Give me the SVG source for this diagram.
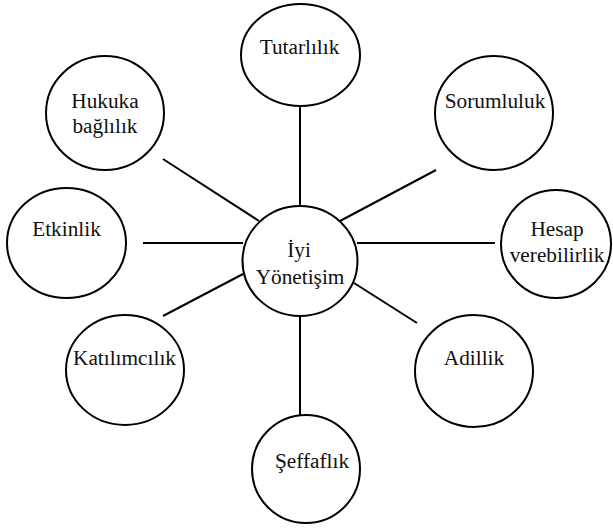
<svg xmlns="http://www.w3.org/2000/svg" width="613" height="528" viewBox="0 0 613 528">
  <style>
    .node ellipse { fill: #ffffff; stroke: #000000; stroke-width: 2; }
    .node text { font-family: 'Liberation Serif', 'DejaVu Serif', serif; font-size: 21.3px; fill: #111111; text-anchor: middle; }
    #connectors line { stroke: #000000; stroke-width: 2; }
  </style>
  <rect width="613" height="528" fill="#ffffff"/>

  <!-- spokes from the hub to each principle -->
  <g id="connectors">
    <line x1="300" y1="105" x2="300" y2="206"/>
    <line x1="163" y1="159" x2="259" y2="221"/>
    <line x1="436" y1="170" x2="340" y2="221"/>
    <line x1="143" y1="243" x2="243" y2="243"/>
    <line x1="357" y1="243" x2="495" y2="243"/>
    <line x1="163" y1="316" x2="243" y2="274"/>
    <line x1="354" y1="283" x2="417" y2="323"/>
    <line x1="300" y1="316" x2="300" y2="416"/>
  </g>

  <g id="tutarlilik" class="node">
    <ellipse cx="300.5" cy="55" rx="59.5" ry="51"/>
    <text x="299.5" y="54">Tutarlılık</text>
  </g>

  <g id="hukuka-baglilik" class="node">
    <ellipse cx="105" cy="113" rx="59" ry="57"/>
    <text x="105" y="108">Hukuka</text>
    <text x="105" y="133">bağlılık</text>
  </g>

  <g id="sorumluluk" class="node">
    <ellipse cx="494" cy="113" rx="59" ry="57"/>
    <text x="495" y="108">Sorumluluk</text>
  </g>

  <g id="etkinlik" class="node">
    <ellipse cx="66.5" cy="243" rx="59.5" ry="55"/>
    <text x="66.5" y="236">Etkinlik</text>
  </g>

  <g id="iyi-yonetisim" class="node">
    <ellipse cx="300" cy="261" rx="57.5" ry="55"/>
    <text x="299" y="257">İyi</text>
    <text x="300" y="284">Yönetişim</text>
  </g>

  <g id="hesap-verebilirlik" class="node">
    <ellipse cx="556" cy="244" rx="55" ry="54"/>
    <text x="557" y="236">Hesap</text>
    <text x="557" y="261.5">verebilirlik</text>
  </g>

  <g id="katilimcilik" class="node">
    <ellipse cx="125" cy="370" rx="59" ry="55"/>
    <text x="124.5" y="365">Katılımcılık</text>
  </g>

  <g id="adillik" class="node">
    <ellipse cx="474" cy="371" rx="59" ry="56"/>
    <text x="474" y="365">Adillik</text>
  </g>

  <g id="seffaflik" class="node">
    <ellipse cx="306" cy="469" rx="54" ry="54"/>
    <text x="312" y="468">Şeffaflık</text>
  </g>
</svg>
